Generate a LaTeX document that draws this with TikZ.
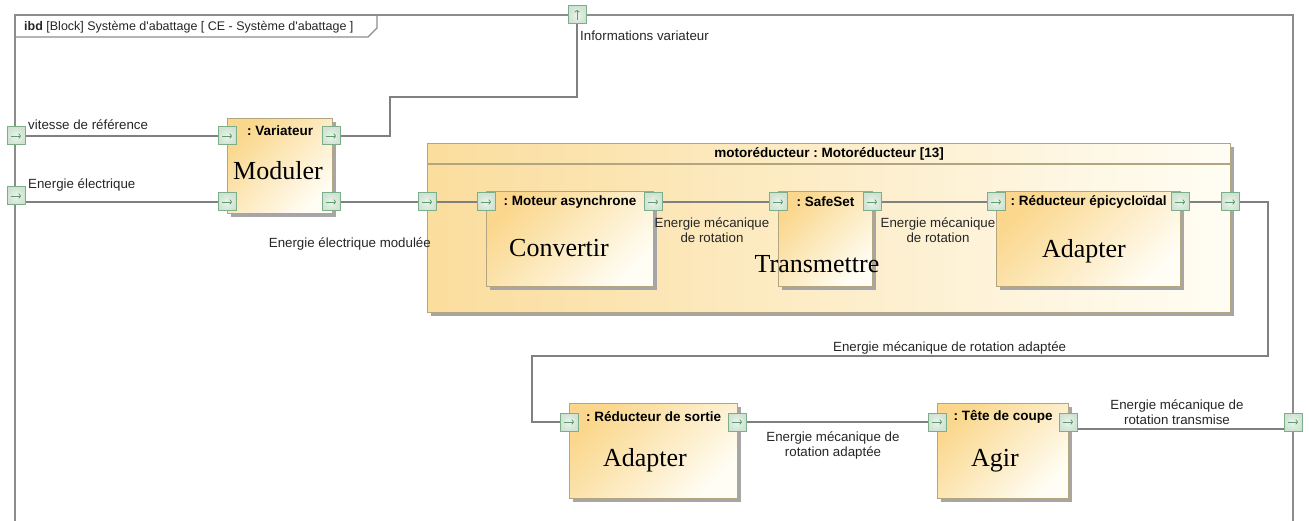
\documentclass[tikz,border=0pt]{standalone}
\usepackage{fontspec}
\setmainfont{Liberation Serif}
\setsansfont{Liberation Sans}[Ligatures=TeXOff]
\usetikzlibrary{shadows,arrows.meta}
\frenchspacing

\definecolor{framegray}{HTML}{8C8C8C}
\definecolor{linegray}{HTML}{808080}
\definecolor{blockborder}{HTML}{B3A57F}
\definecolor{blockyel}{HTML}{FAD78C}
\definecolor{blocklight}{HTML}{FFFDF4}
\definecolor{portfill}{HTML}{CFE3D2}
\definecolor{portborder}{HTML}{7DAE8A}
\definecolor{portarrow}{HTML}{5E9C6E}

\begin{document}
\begin{tikzpicture}[x=1pt, y=-1pt,
    block/.style={draw=blockborder, line width=1.2pt, top color=blockyel, bottom color=blocklight,
        shading angle=45, drop shadow={shadow xshift=3pt, shadow yshift=-3pt, fill=black!35, opacity=1},
        anchor=north west, inner sep=0pt},
    bigblock/.style={block, left color=blockyel!85, right color=blocklight, shading angle=90},
    port/.style={draw=portborder, line width=1pt, inner color=portfill!40, outer color=portfill,
        minimum size=18pt, inner sep=0pt,
        path picture={\draw[portarrow, line width=0.8pt, -{To[length=2.5pt]}]
            ([xshift=-5pt]path picture bounding box.center) -- ([xshift=5pt]path picture bounding box.center);}},
    portup/.style={port,
        path picture={\draw[portarrow, line width=0.8pt, -{To[length=2.5pt]}]
            ([yshift=-5pt]path picture bounding box.center) -- ([yshift=5pt]path picture bounding box.center);}},
    conn/.style={draw=linegray, line width=1.4pt},
    lbl/.style={font=\sffamily\fontsize{13.3}{14.5}\selectfont, text=black!85, inner sep=0pt},
    btitle/.style={font=\sffamily\bfseries\fontsize{13.5}{15}\selectfont, inner sep=0pt},
    func/.style={font=\fontsize{26}{30}\selectfont, inner sep=0pt, anchor=base}
]
    \useasboundingbox (0,0) rectangle (1309,521);

    % Frame
    \draw[framegray, line width=1.5pt] (15,560) -- (15,15) -- (1293,15) -- (1293,560);
    \draw[framegray, line width=1.2pt] (15,37) -- (368,37) -- (377,28) -- (377,15);
    \node[lbl, font=\sffamily\fontsize{12.5}{14}\selectfont, anchor=base west] (ftitle) at (24,31)
        {\textbf{ibd} [Block] Système d'abattage [ CE - Système d'abattage ]};

    % Motoreducteur
    \node[bigblock, minimum width=803pt, minimum height=169pt] (motor) at (427,143) {};
    \draw[blockborder, line width=1.2pt] ([yshift=-21pt]motor.north west) -- ([yshift=-21pt]motor.north east);
    \node[btitle] (motorT) at ([yshift=-11pt]motor.north) {motoréducteur : Motoréducteur [13]};

    % Blocks
    \node[block, minimum width=105pt, minimum height=95pt] (var) at (227,118) {};
    \node[block, minimum width=167pt, minimum height=95pt] (mas) at (486,191) {};
    \node[block, minimum width=94pt, minimum height=95pt] (ss) at (778,191) {};
    \node[block, minimum width=184pt, minimum height=95pt] (epi) at (996,191) {};
    \node[block, minimum width=168pt, minimum height=95pt] (rds) at (569,403) {};
    \node[block, minimum width=131pt, minimum height=95pt] (tc) at (937,403) {};

    \node[btitle] (varT) at ([yshift=-12.5pt]var.north) {: Variateur};
    \node[btitle] (masT) at ([yshift=-11pt]mas.north) {: Moteur asynchrone};
    \node[btitle] (ssT) at ([yshift=-11pt]ss.north) {: SafeSet};
    \node[btitle] (epiT) at ([yshift=-11pt]epi.north) {: Réducteur épicycloïdal};
    \node[btitle] (rdsT) at ([yshift=-14pt]rds.north) {: Réducteur de sortie};
    \node[btitle] (tcT) at ([yshift=-14pt]tc.north) {: Tête de coupe};

    \node[func] (varF) at (278,180) {Moduler};
    \node[func] (masF) at (559,257) {Convertir};
    \node[func] (ssF) at (817,273) {Transmettre};
    \node[func] (epiF) at (1084,258) {Adapter};
    \node[func] (rdsF) at (645,466) {Adapter};
    \node[func] (tcF) at (995,466) {Agir};

    % Ports
    \node[port] (fVit) at (16,136) {};
    \node[port] (fElec) at (16,196) {};
    \node[portup] (fInfo) at (577,15) {};
    \node[port] (fRot) at (1293,422) {};

    \node[port] (varIn1) at (227,136) {};
    \node[port] (varIn2) at (227,202) {};
    \node[port] (varOut1) at (331,136) {};
    \node[port] (varOut2) at (331,202) {};
    \node[port] (motIn) at (427,202) {};
    \node[port] (masIn) at (486,202) {};
    \node[port] (masOut) at (653,202) {};
    \node[port] (ssIn) at (778,202) {};
    \node[port] (ssOut) at (872,202) {};
    \node[port] (epiIn) at (996,202) {};
    \node[port] (epiOut) at (1180,202) {};
    \node[port] (motOut) at (1230,202) {};
    \node[port] (rdsIn) at (569,422) {};
    \node[port] (rdsOut) at (737,422) {};
    \node[port] (tcIn) at (937,422) {};
    \node[port] (tcOut) at (1068,422) {};

    % Connectors
    \coordinate (k1) at (390,97);
    \coordinate (k2) at (1268,356);
    \coordinate (k3) at (532,356);

    \draw[conn] (fVit) -- (varIn1);
    \draw[conn] (fElec.east |- varIn2) -- (varIn2);
    \draw[conn] (varOut1) -| (k1) -| (fInfo);
    \draw[conn] (varOut2) -- (motIn);
    \draw[conn] (motIn) -- (masIn);
    \draw[conn] (masOut) -- (ssIn);
    \draw[conn] (ssOut) -- (epiIn);
    \draw[conn] (epiOut) -- (motOut);
    \draw[conn] (motOut) -| (k2) -- (k3) |- (rdsIn);
    \draw[conn] (rdsOut) -- (tcIn);
    \draw[conn] ([yshift=-7pt]tcOut.east) -- ([yshift=-7pt]fRot.west);

    % Labels
    \node[lbl, anchor=base west] (lVit) at (28,130) {vitesse de référence};
    \node[lbl, anchor=base west] (lElec) at (28,189) {Energie électrique};
    \node[lbl, anchor=base west] (lInfo) at (580,41) {Informations variateur};
    \node[lbl, anchor=base east] (lMod) at (431,248) {Energie électrique modulée};
    \node[lbl, anchor=north, align=center] (lRot1) at (712,218) {Energie mécanique\\de rotation};
    \node[lbl, anchor=north, align=center] (lRot2) at (938,218) {Energie mécanique\\de rotation};
    \node[lbl, anchor=base west] (lAd1) at (833,351) {Energie mécanique de rotation adaptée};
    \node[lbl, anchor=north, align=center] (lAd2) at (833,432) {Energie mécanique de\\rotation adaptée};
    \node[lbl, anchor=north, align=center] (lTr) at (1177,400) {Energie mécanique de\\rotation transmise};

\end{tikzpicture}
\end{document}
